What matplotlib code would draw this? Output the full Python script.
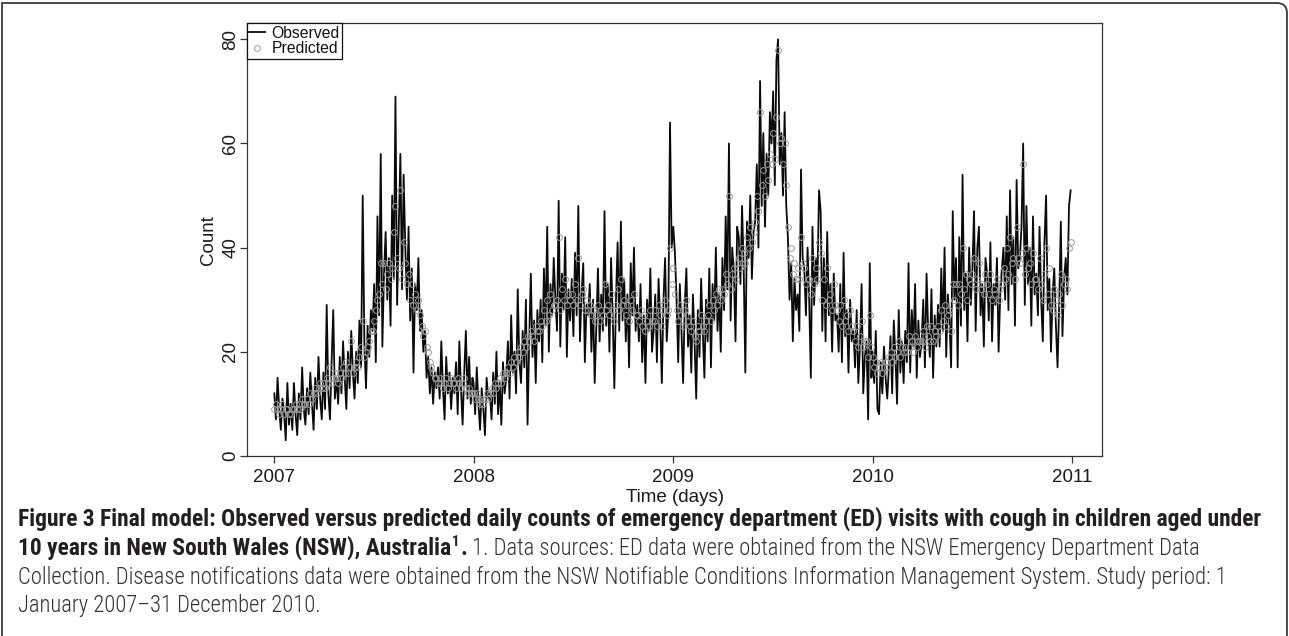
import numpy as np
import matplotlib
matplotlib.use("Agg")
import matplotlib.pyplot as plt
import matplotlib.dates as mdates
from matplotlib.path import Path
from matplotlib.patches import PathPatch
from matplotlib import font_manager
from matplotlib.font_manager import FontProperties

# ---------------- data (values every 3 days, starting 1 Jan of each year) ----------------
obs_2007 = [
    12, 7, 15, 9, 5, 11, 8, 3, 14, 6,
    10, 5, 14, 8, 4, 12, 7, 17, 9, 6,
    13, 8, 16, 10, 5, 15, 9, 19, 11, 7,
    16, 9, 29, 12, 7, 18, 28, 11, 15, 10,
    19, 12, 22, 15, 9, 20, 13, 24, 16, 11,
    20, 14, 26, 17, 50, 22, 13, 25, 19, 28,
    24, 33, 18, 46, 27, 58, 21, 35, 43, 30,
    38, 25, 50, 34, 69, 29, 44, 58, 32, 54,
    40, 30, 44, 26, 36, 16, 33, 28, 38, 24,
    28, 20, 24, 15, 19, 12, 17, 10, 16, 13,
    17, 11, 22, 13, 7, 19, 12, 16, 9, 15,
    12, 18, 8, 22, 13, 6, 16, 24, 11, 19, 10, 15,
]
obs_2008 = [
    14, 8, 17, 10, 5, 13, 9, 4, 15, 11,
    12, 7, 16, 10, 20, 8, 14, 6, 18, 12,
    15, 22, 11, 27, 16, 20, 12, 32, 18, 14,
    24, 17, 30, 6, 22, 35, 19, 26, 14, 28,
    22, 30, 18, 36, 25, 44, 20, 33, 27, 38,
    30, 24, 49, 21, 35, 28, 42, 19, 32, 26,
    34, 23, 39, 27, 48, 22, 31, 37, 18, 29,
    27, 33, 20, 30, 14, 25, 36, 22, 31, 24,
    47, 25, 33, 20, 38, 27, 13, 30, 41, 24,
    45, 26, 34, 22, 31, 17, 37, 27, 40, 24,
    29, 22, 33, 18, 27, 14, 30, 24, 36, 20,
    24, 31, 18, 34, 26, 14, 30, 38, 22, 28, 64, 40,
]
obs_2009 = [
    44, 39, 30, 18, 33, 24, 14, 29, 36, 21,
    27, 16, 31, 22, 11, 28, 19, 34, 24, 15,
    30, 22, 36, 17, 33, 26, 40, 24, 31, 20,
    38, 28, 46, 32, 60, 26, 40, 35, 22, 44,
    42, 33, 48, 36, 16, 45, 38, 50, 34, 43,
    45, 56, 40, 72, 48, 62, 44, 58, 50, 66,
    60, 70, 52, 76, 80, 56, 62, 50, 66, 48,
    42, 30, 37, 22, 34, 28, 31, 24, 55, 38,
    36, 27, 40, 30, 15, 44, 29, 38, 33, 51,
    47, 24, 38, 22, 43, 27, 33, 20, 35, 26,
    27, 20, 33, 18, 39, 23, 28, 16, 30, 22,
    24, 17, 28, 14, 21, 33, 12, 19, 22, 7, 37, 15,
]
obs_2010 = [
    20, 14, 24, 9, 8, 18, 12, 21, 15, 11,
    17, 23, 12, 26, 19, 10, 28, 16, 22, 14,
    24, 18, 37, 16, 28, 21, 33, 15, 26, 19,
    22, 30, 17, 35, 24, 19, 32, 15, 27, 21,
    29, 21, 36, 24, 40, 19, 31, 26, 17, 47,
    30, 38, 17, 42, 25, 54, 28, 35, 22, 40,
    29, 36, 47, 24, 40, 44, 27, 33, 21, 38,
    35, 26, 41, 22, 33, 29, 38, 20, 31, 36,
    40, 30, 46, 28, 51, 33, 42, 25, 53, 36,
    38, 44, 60, 29, 48, 33, 40, 25, 46, 31,
    35, 27, 44, 30, 22, 41, 50, 28, 34, 20,
    31, 36, 25, 17, 29, 45, 23, 34, 38, 31, 48, 51,
]

pred_2007 = [
    9, 10, 9, 8, 9, 10, 8, 9, 9, 8,
    8, 9, 9, 10, 9, 10, 9, 11, 10, 10,
    11, 10, 12, 11, 12, 13, 12, 13, 14, 13,
    14, 13, 15, 14, 17, 14, 15, 16, 15, 14,
    16, 15, 17, 16, 18, 16, 17, 22, 16, 17,
    18, 17, 19, 21, 26, 19, 20, 21, 22, 24,
    24, 26, 28, 30, 31, 37, 33, 37, 32, 35,
    37, 34, 36, 43, 48, 38, 36, 51, 34, 41,
    37, 33, 35, 30, 33, 29, 31, 28, 30, 27,
    25, 23, 24, 21, 20, 18, 17, 16, 15, 15,
    14, 15, 14, 13, 14, 15, 13, 14, 15, 14,
    14, 13, 15, 14, 13, 14, 15, 13, 12, 13, 12, 12,
]
pred_2008 = [
    12, 11, 12, 11, 10, 11, 10, 11, 12, 11,
    12, 13, 12, 14, 13, 14, 15, 14, 16, 15,
    16, 17, 16, 18, 17, 19, 18, 20, 19, 21,
    20, 22, 21, 23, 22, 24, 23, 22, 25, 24,
    24, 26, 25, 28, 26, 30, 27, 31, 28, 29,
    29, 30, 42, 28, 32, 30, 34, 29, 31, 30,
    31, 29, 33, 30, 38, 29, 31, 32, 28, 30,
    28, 29, 27, 28, 26, 27, 29, 26, 28, 27,
    33, 28, 29, 27, 31, 28, 26, 29, 32, 28,
    34, 29, 30, 27, 29, 26, 30, 28, 31, 27,
    27, 26, 28, 25, 27, 24, 26, 25, 28, 26,
    26, 28, 25, 29, 27, 25, 28, 30, 27, 28, 40, 33,
]
pred_2009 = [
    36, 31, 28, 26, 29, 27, 25, 28, 30, 26,
    25, 24, 26, 23, 22, 25, 24, 27, 25, 24,
    26, 27, 29, 26, 30, 28, 31, 29, 32, 30,
    32, 31, 35, 33, 50, 32, 35, 36, 34, 37,
    38, 36, 40, 39, 37, 42, 40, 44, 41, 43,
    45, 50, 47, 66, 52, 55, 50, 56, 53, 58,
    56, 62, 57, 65, 78, 60, 61, 56, 60, 52,
    44, 38, 40, 35, 37, 34, 36, 34, 42, 37,
    36, 33, 34, 34, 31, 38, 33, 36, 34, 41,
    39, 30, 34, 29, 36, 30, 31, 28, 33, 29,
    28, 26, 29, 25, 30, 26, 27, 24, 28, 25,
    24, 22, 25, 21, 23, 26, 21, 22, 22, 19, 27, 21,
]
pred_2010 = [
    19, 17, 18, 16, 17, 18, 16, 17, 18, 17,
    19, 20, 18, 21, 19, 20, 22, 19, 21, 20,
    21, 20, 23, 21, 22, 20, 23, 21, 22, 22,
    22, 24, 21, 25, 23, 22, 25, 22, 24, 23,
    25, 24, 28, 26, 29, 25, 27, 28, 24, 33,
    30, 33, 29, 33, 31, 40, 32, 35, 30, 34,
    33, 35, 38, 32, 34, 37, 32, 33, 31, 35,
    33, 31, 35, 30, 32, 31, 34, 30, 32, 33,
    36, 34, 40, 35, 42, 37, 38, 34, 44, 38,
    37, 39, 56, 35, 40, 36, 37, 33, 39, 34,
    34, 32, 38, 33, 30, 35, 40, 31, 36, 29,
    28, 32, 30, 27, 31, 35, 29, 33, 34, 32, 40, 41,
]

years = [2007, 2008, 2009, 2010]
obs_by_year = [obs_2007, obs_2008, obs_2009, obs_2010]
pred_by_year = [pred_2007, pred_2008, pred_2009, pred_2010]
step_days = 3

y_ticks = [0, 20, 40, 60, 80]
x_tick_years = [2007, 2008, 2009, 2010, 2011]

caption_bold_1 = ("Figure 3 Final model: Observed versus predicted daily counts of emergency "
                  "department (ED) visits with cough in children aged under")
caption_bold_2 = "10 years in New South Wales (NSW), Australia"
caption_sup = "1"
caption_rest_2 = " 1. Data sources: ED data were obtained from the NSW Emergency Department Data"
caption_3 = ("Collection. Disease notifications data were obtained from the NSW Notifiable "
             "Conditions Information Management System. Study period: 1")
caption_4 = "January 2007\u201331 December 2010."

# ---------------- build date series ----------------
def dates_for(year, n):
    return np.datetime64(f"{year}-01-01") + np.arange(n) * np.timedelta64(step_days, "D")

x_obs = np.concatenate([dates_for(y, len(v)) for y, v in zip(years, obs_by_year)])
y_obs = np.concatenate([np.asarray(v, float) for v in obs_by_year])
x_pred = np.concatenate([dates_for(y, len(v)) for y, v in zip(years, pred_by_year)])
y_pred = np.concatenate([np.asarray(v, float) for v in pred_by_year])

# ---------------- figure ----------------
W, H = 1289, 636
plt.rcParams["font.family"] = ["Liberation Sans", "DejaVu Sans"]
fig = plt.figure(figsize=(W / 100, H / 100), dpi=100)

def fx(px):
    return px / W

def fy(py):
    return 1 - py / H

ax_l, ax_r, ax_t, ax_b = 247, 1102.3, 23.3, 456.3
ax = fig.add_axes([fx(ax_l), fy(ax_b), (ax_r - ax_l) / W, (ax_b - ax_t) / H])

ax.plot(x_obs, y_obs, color="#0a0a0a", lw=1.3, label="Observed", zorder=2)
ax.plot(x_pred, y_pred, ls="none", marker="o", mfc="none", mec="#9c9c9c",
        ms=4.2, mew=0.7, label="Predicted", zorder=3)

ax.set_xlim(np.datetime64("2006-11-12"), np.datetime64("2011-02-26"))
ax.set_ylim(-0.08, 83.08)
ax.set_yticks(y_ticks)
ax.set_xticks([np.datetime64(f"{y}-01-01") for y in x_tick_years])
ax.xaxis.set_major_formatter(mdates.DateFormatter("%Y"))

for s in ax.spines.values():
    s.set_color("#333333")
    s.set_linewidth(0.9)
ax.tick_params(axis="both", direction="out", length=5, width=0.9, color="#333333",
               labelsize=13.5, labelcolor="#1a1a1a")
ax.tick_params(axis="x", pad=4)
ax.tick_params(axis="y", pad=0.5, labelrotation=90)
for lbl in ax.get_yticklabels():
    lbl.set_va("center")

ax.set_xlabel("Time (days)", fontsize=13.5, color="#1a1a1a", labelpad=2)
ax.set_ylabel("Count", fontsize=13.5, color="#1a1a1a", labelpad=4)

leg = ax.legend(loc="upper left", bbox_to_anchor=(0, 1), borderaxespad=0, frameon=True,
                fancybox=False, edgecolor="#111111", framealpha=1, fontsize=11.3,
                handlelength=1.0, handletextpad=0.4, borderpad=0.15, labelspacing=0.05)
leg.get_frame().set_linewidth(0.9)
for t in leg.get_texts():
    t.set_color("#111111")

# ---------------- caption fonts (prefer a condensed face if one is installed) ----------------
PREFS = ["liberationsansnarrow", "robotocondensed", "opensanscondensed",
         "dejavusanscondensed", "notosanscondensed"]

def find_condensed(want):
    best = None
    for f in font_manager.fontManager.ttflist:
        key = (f.fname.split("/")[-1]).lower().replace("-", "").replace("_", "").replace(" ", "")
        if not any(p in key for p in PREFS):
            continue
        if "italic" in key or "oblique" in key:
            continue
        if any(w in key for w in ("extralight", "thin", "black", "medium", "semibold", "extrabold")):
            continue
        if want == "bold":
            ok = "bold" in key
        elif want == "light":
            ok = "light" in key and "bold" not in key
        else:
            ok = "bold" not in key and "light" not in key
        if not ok:
            continue
        rank = next(i for i, p in enumerate(PREFS) if p in key)
        if best is None or rank < best[0]:
            best = (rank, f.fname)
    return best[1] if best else None

bold_file = find_condensed("bold")
reg_file = find_condensed("regular")
light_file = find_condensed("light")
if bold_file and reg_file:
    fp_bold = FontProperties(fname=bold_file)
    fp_reg = FontProperties(fname=light_file if light_file else reg_file)
else:
    fp_reg = FontProperties(family="Liberation Sans")
    fp_bold = FontProperties(family="Liberation Sans", weight="bold")

renderer = fig.canvas.get_renderer()

def width_of(t):
    return t.get_window_extent(renderer=renderer).width

def ctext(xp, yp, s, fp, size, color):
    prop = fp.copy()
    prop.set_size(size)
    return fig.text(fx(xp), fy(yp), s, fontproperties=prop, color=color,
                    va="baseline", ha="left")

bold_col = "#231f20"
reg_col = "#333333"
x0 = 18
base = [526, 555, 584, 612]

t1 = ctext(x0, base[0], caption_bold_1, fp_bold, 16, bold_col)
bsize = 16 * (1266 - x0) / width_of(t1)
t1.set_fontsize(bsize)

t3 = ctext(x0, base[2], caption_3, fp_reg, 16, reg_col)
rsize = 16 * (1228 - x0) / width_of(t3)
t3.set_fontsize(rsize)

ctext(x0, base[3], caption_4, fp_reg, rsize, reg_col)

cur = x0
tb = ctext(cur, base[1], caption_bold_2, fp_bold, bsize, bold_col)
cur += width_of(tb) + 1
ts = ctext(cur, base[1] - bsize * 0.55, caption_sup, fp_bold, bsize * 0.62, bold_col)
cur += width_of(ts) + 1
tp = ctext(cur, base[1], ".", fp_bold, bsize, bold_col)
cur += width_of(tp)
ctext(cur, base[1], caption_rest_2, fp_reg, rsize, reg_col)

# ---------------- outer frame ----------------
r = 10
verts = [(2, H + 20), (2, 3), (1287 - r, 3), (1287, 3), (1287, 3 + r), (1287, H + 20)]
codes = [Path.MOVETO, Path.LINETO, Path.LINETO, Path.CURVE3, Path.CURVE3, Path.LINETO]
p = Path([(fx(a), fy(b)) for a, b in verts], codes)
fig.add_artist(PathPatch(p, transform=fig.transFigure, fill=False, edgecolor="#3a3a3a",
                         lw=1.3, clip_on=False))

fig.savefig("out.png", dpi=100)
